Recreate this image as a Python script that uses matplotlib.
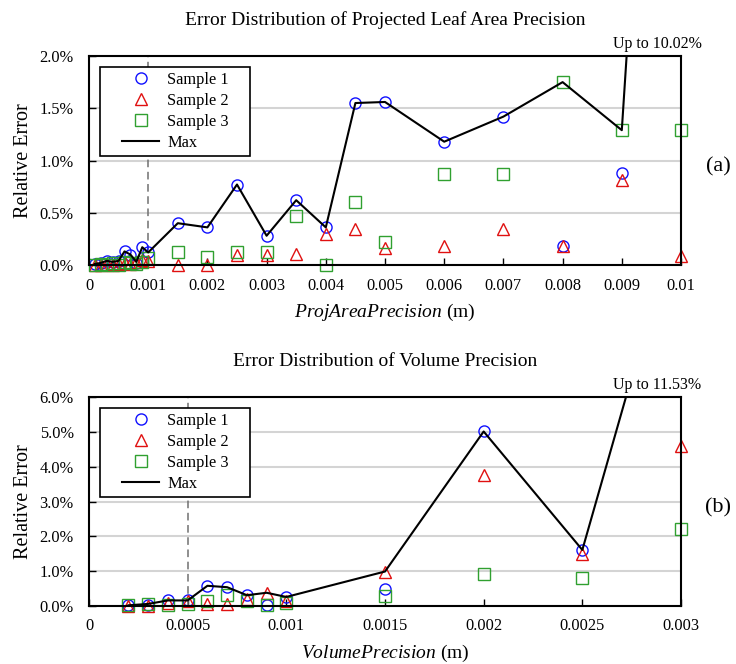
import numpy as np
import matplotlib
matplotlib.use('Agg')
import matplotlib.pyplot as plt
from matplotlib.lines import Line2D
from matplotlib.legend_handler import HandlerLine2D
from matplotlib.ticker import PercentFormatter, FuncFormatter, MultipleLocator

plt.rcParams['font.family'] = 'Liberation Serif'
plt.rcParams['mathtext.fontset'] = 'custom'
plt.rcParams['mathtext.rm'] = 'Liberation Serif'
plt.rcParams['mathtext.it'] = 'Liberation Serif:italic'

series_names = ['Sample 1', 'Sample 2', 'Sample 3', 'Max']

# (a) relative error (%) vs projected leaf area precision (m)
area_prec = [0.0001, 0.0002, 0.0003, 0.0004, 0.0005, 0.0006, 0.0007, 0.0008, 0.0009, 0.001,
             0.0015, 0.002, 0.0025, 0.003, 0.0035, 0.004, 0.0045, 0.005,
             0.006, 0.007, 0.008, 0.009, 0.01]
area_s1 = [0.01, 0.02, 0.04, 0.03, 0.04, 0.13, 0.10, 0.02, 0.17, 0.12,
           0.40, 0.36, 0.77, 0.28, 0.62, 0.36, 1.55, 1.56,
           1.18, 1.42, 0.18, 0.88, 10.02]
area_s2 = [0.0, 0.0, 0.01, 0.0, 0.01, 0.02, 0.01, 0.03, 0.05, 0.04,
           0.0, 0.0, 0.10, 0.10, 0.11, 0.30, 0.34, 0.16,
           0.18, 0.34, 0.18, 0.81, 0.09]
area_s3 = [0.0, 0.01, 0.0, 0.02, 0.0, 0.03, 0.02, 0.01, 0.03, 0.07,
           0.12, 0.08, 0.12, 0.12, 0.47, 0.0, 0.60, 0.22,
           0.87, 0.87, 1.75, 1.29, 1.29]
area_ticks = [0, 0.001, 0.002, 0.003, 0.004, 0.005, 0.006, 0.007, 0.008, 0.009, 0.01]
area_ref = 0.001

# (b) relative error (%) vs volume precision (m)
vol_prec = [0.0002, 0.0003, 0.0004, 0.0005, 0.0006, 0.0007, 0.0008, 0.0009, 0.001,
            0.0015, 0.002, 0.0025, 0.003]
vol_s1 = [0.02, 0.02, 0.16, 0.16, 0.58, 0.54, 0.31, 0.02, 0.26, 0.48, 5.01, 1.61, 11.53]
vol_s2 = [0.0, 0.0, 0.08, 0.15, 0.05, 0.05, 0.20, 0.38, 0.13, 0.99, 3.77, 1.48, 4.59]
vol_s3 = [0.02, 0.06, 0.03, 0.05, 0.14, 0.31, 0.13, 0.04, 0.09, 0.29, 0.91, 0.81, 2.21]
vol_ticks = [0, 0.0005, 0.001, 0.0015, 0.002, 0.0025, 0.003]
vol_ref = 0.0005


def draw(ax, x, s1, s2, s3, ticks, ref, ymax, ystep, title, xname, tag):
    smax = np.max(np.vstack([s1, s2, s3]), axis=0)
    ax.set_axisbelow(True)
    ax.yaxis.grid(True, color='#d4d4d4', lw=1.5)
    ax.axvline(ref, color='#707070', ls=(0, (5, 3)), lw=1.1, zorder=1)
    # markers are left unclipped so edge points show whole; off-scale values are hidden
    styles = [('o', '#1010ff'), ('^', '#e01010'), ('s', '#30a030')]
    for s, (m, c), name in zip([s1, s2, s3], styles, series_names):
        ax.plot(x, np.ma.masked_greater(s, ymax), m, ms=8, mfc='none', mec=c, mew=1.0,
                label=name, zorder=3, clip_on=False)
    ax.plot(x, smax, '-', color='black', lw=1.5, label=series_names[3], zorder=4)
    ax.set_xlim(ticks[0], ticks[-1])
    ax.set_ylim(0, ymax)
    ax.set_xticks(ticks)
    ax.xaxis.set_major_formatter(FuncFormatter(lambda v, p: '%g' % v))
    ax.yaxis.set_major_locator(MultipleLocator(ystep))
    ax.yaxis.set_major_formatter(PercentFormatter(xmax=100, decimals=1))
    ax.tick_params(direction='in', length=5, width=1.0, labelsize=11.8, colors='black')
    ax.tick_params(axis='x', pad=9)
    ax.tick_params(axis='y', pad=11)
    for sp in ax.spines.values():
        sp.set_linewidth(1.5)
        sp.set_zorder(5)
    ax.set_title(title, fontsize=14, pad=22)
    ax.set_xlabel(r'$\mathit{%s}$ (m)' % xname, fontsize=14, labelpad=6)
    ax.set_ylabel('Relative Error', fontsize=14.5)
    ax.yaxis.set_label_coords(-0.094, 0.5)
    ax.annotate('Up to %.2f%%' % smax[-1], xy=(ticks[-1] - 0.04 * (ticks[-1] - ticks[0]), 1.0),
                xycoords=('data', 'axes fraction'), xytext=(0, 3), textcoords='offset points',
                ha='center', va='bottom', fontsize=11.5)
    ax.text(1.063, 0.47, tag, transform=ax.transAxes, fontsize=16, ha='center', va='center')
    leg = ax.legend(loc='upper left', bbox_to_anchor=(0.0186, 0.0, 0.2534, 0.947), mode='expand',
                    borderaxespad=0, fancybox=False, edgecolor='black', framealpha=1,
                    fontsize=11.8, handlelength=3.3, handletextpad=0.5, borderpad=0.3,
                    labelspacing=0.3, handler_map={Line2D: HandlerLine2D(xpad=1.05)})
    leg.get_frame().set_linewidth(1.2)
    leg.set_zorder(6)


fig = plt.figure(figsize=(7.36, 6.64), dpi=100)
ax1 = fig.add_axes([89 / 736, 1 - 265 / 664, 592 / 736, 209 / 664])
ax2 = fig.add_axes([89 / 736, 1 - 606 / 664, 592 / 736, 209 / 664])

draw(ax1, area_prec, area_s1, area_s2, area_s3, area_ticks, area_ref, 2.0, 0.5,
     'Error Distribution of Projected Leaf Area Precision', 'ProjAreaPrecision', '(a)')
draw(ax2, vol_prec, vol_s1, vol_s2, vol_s3, vol_ticks, vol_ref, 6.0, 1.0,
     'Error Distribution of Volume Precision', 'VolumePrecision', '(b)')

fig.savefig('out.png', dpi=100)
